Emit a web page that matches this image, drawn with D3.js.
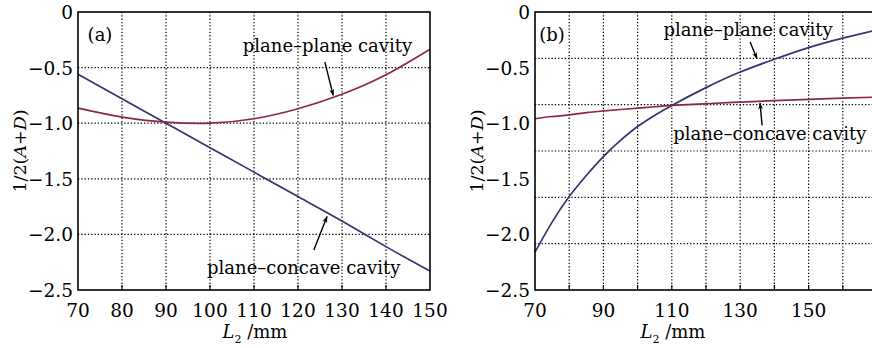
<!DOCTYPE html>
<html>
<head>
<meta charset="utf-8">
<script src="https://cdn.jsdelivr.net/npm/d3@7"></script>
<style>
  html, body { margin: 0; padding: 0; background: #fff; }
  svg { display: block; font-family: 'DejaVu Serif', serif; fill: #000; }
</style>
</head>
<body>
<div id="chart"></div>
<script>
// panel (a)
const lengthsA = [70, 80, 90, 100, 110, 120, 130, 140, 150];
const planePlaneA = [-0.865, -0.945, -0.99, -1.0, -0.96, -0.87, -0.74, -0.565, -0.335];
const planeConcaveA = [-0.56, -0.78, -1.0, -1.22, -1.44, -1.66, -1.88, -2.11, -2.33];
const xTicksA = [70, 80, 90, 100, 110, 120, 130, 140, 150];
const xGridA = [80, 90, 100, 110, 120, 130, 140];

// panel (b)
const lengthsB = [70, 75, 80, 85, 90, 95, 100, 105, 110, 120, 130, 140, 150, 160, 170];
const planePlaneB = [-2.16, -1.89, -1.66, -1.47, -1.3, -1.155, -1.03, -0.93, -0.84, -0.68, -0.54, -0.425, -0.32, -0.235, -0.16];
const planeConcaveB = [-0.96, -0.94, -0.925, -0.905, -0.89, -0.877, -0.865, -0.852, -0.84, -0.825, -0.81, -0.797, -0.785, -0.775, -0.765];
const xTicksB = [70, 90, 110, 130, 150];
const xGridB = [80, 90, 100, 110, 120, 130, 140, 150, 160];
const yGridB = [-0.4167, -0.8333, -1.25, -1.6667, -2.0833];

const yTicks = [0, -0.5, -1.0, -1.5, -2.0, -2.5];
const yGridA = [-0.5, -1.0, -1.5, -2.0];

const BLUE = '#34346f';
const RED = '#8c2a3c';

const width = 872;
const height = 348;

const svg = d3.select('#chart')
  .append('svg')
  .attr('width', width)
  .attr('height', height);

svg.append('defs').append('marker')
  .attr('id', 'arrow')
  .attr('viewBox', '0 0 10 10')
  .attr('refX', 9)
  .attr('refY', 5)
  .attr('markerWidth', 10)
  .attr('markerHeight', 7)
  .attr('markerUnits', 'userSpaceOnUse')
  .attr('orient', 'auto')
  .append('path')
  .attr('d', 'M0,1.5 L10,5 L0,8.5 L3,5 z')
  .attr('fill', '#000');

const fmt = (d) => d === 0 ? '0' : d3.format('.1f')(d).replace('-', '\u2212');

function panel(cfg) {
  const x = d3.scaleLinear().domain(cfg.xDomain).range(cfg.xRange);
  const y = d3.scaleLinear().domain([0, -2.5]).range([12, 290]);
  const g = svg.append('g');

  // dotted grid
  g.append('g')
    .selectAll('line')
    .data(cfg.xGrid)
    .enter().append('line')
      .attr('x1', d => x(d)).attr('x2', d => x(d))
      .attr('y1', y(0)).attr('y2', y(-2.5))
      .attr('stroke', '#000')
      .attr('stroke-width', 1.2)
      .attr('stroke-dasharray', '1.3,2');
  g.append('g')
    .selectAll('line')
    .data(cfg.yGrid)
    .enter().append('line')
      .attr('y1', d => y(d)).attr('y2', d => y(d))
      .attr('x1', cfg.xRange[0]).attr('x2', cfg.xRange[1])
      .attr('stroke', '#000')
      .attr('stroke-width', 1.2)
      .attr('stroke-dasharray', '1.3,2');

  // small inward ticks on the bottom axis
  g.append('g')
    .selectAll('line')
    .data(cfg.xGrid)
    .enter().append('line')
      .attr('x1', d => x(d)).attr('x2', d => x(d))
      .attr('y1', y(-2.5)).attr('y2', y(-2.5) - 5)
      .attr('stroke', '#000')
      .attr('stroke-width', 1.2);

  // curves
  const line = d3.line()
    .x(d => x(d[0]))
    .y(d => y(d[1]))
    .curve(d3.curveNatural);
  cfg.series.forEach((s) => {
    g.append('path')
      .datum(cfg.lengths.map((l, i) => [l, s.values[i]]))
      .attr('fill', 'none')
      .attr('stroke', s.color)
      .attr('stroke-width', 1.7)
      .attr('d', line);
  });

  // frame
  g.append('rect')
    .attr('x', cfg.xRange[0])
    .attr('y', y(0))
    .attr('width', cfg.xRange[1] - cfg.xRange[0])
    .attr('height', y(-2.5) - y(0))
    .attr('fill', 'none')
    .attr('stroke', '#000')
    .attr('stroke-width', 1.6);

  // tick labels
  g.append('g')
    .selectAll('text')
    .data(yTicks)
    .enter().append('text')
      .attr('x', cfg.xRange[0] - 5)
      .attr('y', d => y(d) + 7)
      .attr('text-anchor', 'end')
      .attr('font-size', 18.5)
      .text(fmt);
  g.append('g')
    .selectAll('text')
    .data(cfg.xTicks)
    .enter().append('text')
      .attr('x', d => x(d))
      .attr('y', 317)
      .attr('text-anchor', 'middle')
      .attr('font-size', 18.5)
      .text(d => d);

  // axis titles
  const yTitle = g.append('text')
    .attr('transform', `translate(${cfg.xRange[0] - 52},${y(-1.25)}) rotate(-90)`)
    .attr('text-anchor', 'middle')
    .attr('font-size', 17.5);
  yTitle.append('tspan').text('1/2(');
  yTitle.append('tspan').attr('font-style', 'italic').text('A');
  yTitle.append('tspan').text('+');
  yTitle.append('tspan').attr('font-style', 'italic').text('D');
  yTitle.append('tspan').text(')');

  const xTitle = g.append('text')
    .attr('x', cfg.xTitleX)
    .attr('y', 338)
    .attr('text-anchor', 'middle')
    .attr('font-size', 18);
  xTitle.append('tspan').attr('font-style', 'italic').text('L');
  xTitle.append('tspan').attr('font-size', 11).attr('dy', 5).text('2');
  xTitle.append('tspan').attr('dy', -5).text(' /mm');

  // panel letter
  g.append('text')
    .attr('x', x(cfg.letterAt[0]))
    .attr('y', y(cfg.letterAt[1]))
    .attr('text-anchor', 'middle')
    .attr('font-size', 18)
    .text(cfg.letter);

  // annotations
  cfg.notes.forEach((n) => {
    g.append('text')
      .attr('x', x(n.text[0]))
      .attr('y', y(n.text[1]))
      .attr('text-anchor', n.anchor)
      .attr('font-size', 18)
      .text(n.label);
    g.append('line')
      .attr('x1', x(n.from[0])).attr('y1', y(n.from[1]))
      .attr('x2', x(n.to[0])).attr('y2', y(n.to[1]))
      .attr('stroke', '#000')
      .attr('stroke-width', 1.4)
      .attr('marker-end', 'url(#arrow)');
  });
}

panel({
  xDomain: [70, 150],
  xRange: [78, 430],
  xTicks: xTicksA,
  xGrid: xGridA,
  yGrid: yGridA,
  lengths: lengthsA,
  series: [
    { values: planeConcaveA, color: BLUE },
    { values: planePlaneA, color: RED },
  ],
  xTitleX: 255,
  letter: '(a)',
  letterAt: [75, -0.26],
  notes: [
    { label: 'plane\u2013plane cavity', anchor: 'middle', text: [126.7, -0.36],
      from: [126.1, -0.45], to: [128.0, -0.75] },
    { label: 'plane\u2013concave cavity', anchor: 'middle', text: [121.3, -2.36],
      from: [123.6, -2.14], to: [126.6, -1.84] },
  ],
});

panel({
  xDomain: [70, 170],
  xRange: [535, 877],
  xTicks: xTicksB,
  xGrid: xGridB,
  yGrid: yGridB,
  lengths: lengthsB,
  series: [
    { values: planeConcaveB, color: RED },
    { values: planePlaneB, color: BLUE },
  ],
  xTitleX: 673,
  letter: '(b)',
  letterAt: [75, -0.26],
  notes: [
    { label: 'plane\u2013plane cavity', anchor: 'middle', text: [132.3, -0.216],
      from: [132.9, -0.27], to: [134.9, -0.42] },
    { label: 'plane\u2013concave cavity', anchor: 'start', text: [110.4, -1.15],
      from: [136.4, -1.02], to: [135.8, -0.82] },
  ],
});
</script>
</body>
</html>
